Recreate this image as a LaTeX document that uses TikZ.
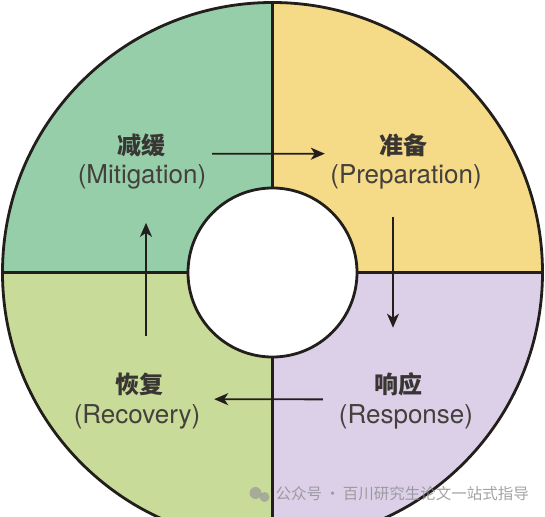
\documentclass[tikz,border=0pt]{standalone}
\usepackage{fontspec}
\setsansfont{TeX Gyre Heros}
\newfontfamily\cjk{Noto Sans CJK SC}
\usetikzlibrary{arrows.meta,positioning,calc}
\definecolor{ink}{HTML}{221E1B}
\definecolor{mitgreen}{HTML}{96CEAA}
\definecolor{prepyellow}{HTML}{F5DA87}
\definecolor{resplilac}{HTML}{DCD0E8}
\definecolor{recgreen}{HTML}{C9DB98}

\begin{document}
\begin{tikzpicture}[x=1pt,y=1pt,
	rim/.style={draw=ink,line width=2.8pt},
	cnlabel/.style={inner sep=0pt,text=ink!90,font=\cjk\bfseries\fontsize{24}{24}\selectfont},
	enlabel/.style={inner sep=0pt,text=ink!85,font=\sffamily\fontsize{26}{26}\selectfont},
	flow/.style={draw=ink,line width=1.8pt,-{Stealth[length=14pt,width=12pt,inset=4pt]}},
	wmark/.style={inner sep=0pt,text=black!45,text opacity=0.8,font=\cjk\fontsize{15.5}{15.5}\selectfont}]
	\useasboundingbox (-272.5,-243.5) rectangle (272.5,272.5);
	\coordinate (top) at (90:270);
	\coordinate (bottom) at (270:270);
	\coordinate (left) at (180:270);
	\coordinate (right) at (0:270);
	\fill[mitgreen] (0,0) -- (left) arc[start angle=180,end angle=90,radius=270] -- cycle;
	\fill[prepyellow] (0,0) -- (top) arc[start angle=90,end angle=0,radius=270] -- cycle;
	\fill[resplilac] (0,0) -- (right) arc[start angle=0,end angle=-90,radius=270] -- cycle;
	\fill[recgreen] (0,0) -- (bottom) arc[start angle=-90,end angle=-180,radius=270] -- cycle;
	\node[circle,rim,fill=white,minimum size=169pt,inner sep=0pt] (hole) at (0,0) {};
	\draw[rim,line width=2.4pt] (hole.north) -- (top);
	\draw[rim,line width=2.4pt] (hole.south) -- (bottom);
	\draw[rim,line width=2.4pt] (hole.west) -- (left);
	\draw[rim,line width=2.4pt] (hole.east) -- (right);
	\draw[rim] (0,0) circle[radius=270];

	\node[cnlabel] (mitcn) at (-130.5,127.5) {减缓};
	\node[enlabel,below=8pt of mitcn] (miten) {(Mitigation)};
	\node[cnlabel] (prepcn) at (130.5,127.5) {准备};
	\node[enlabel,below=8pt of prepcn,xshift=3pt] (prepen) {(Preparation)};
	\node[cnlabel] (respcn) at (125.5,-112) {响应};
	\node[enlabel,below=8pt of respcn,xshift=8pt] (respen) {(Response)};
	\node[cnlabel] (reccn) at (-132.5,-112) {恢复};
	\node[enlabel,below=8pt of reccn,xshift=-3pt] (recen) {(Recovery)};

	\draw[flow] ($(mitcn.south east)+(46,3)$) -- ($(prepcn.south west)+(-54,3)$);
	\draw[flow] ($(prepcn.south)+(-10,-60)$) -- ($(prepcn.south)+(-10,-171)$);
	\draw[flow] ($(respcn.south west)+(-51,-3)$) -- ($(reccn.south east)+(50,-3)$);
	\draw[flow] ($(reccn.north)+(6,37)$) -- ($(reccn.north)+(6,150)$);

	\node[wmark,anchor=west] (wm) at (3,-221.5) {公众号\,·\,百川研究生论文一站式指导};
	\fill[black!40,opacity=0.7] ($(wm.west)+(-20,1)$) circle[radius=6pt];
	\fill[black!40,opacity=0.7] ($(wm.west)+(-11,-3)$) circle[radius=5pt];
\end{tikzpicture}
\end{document}
